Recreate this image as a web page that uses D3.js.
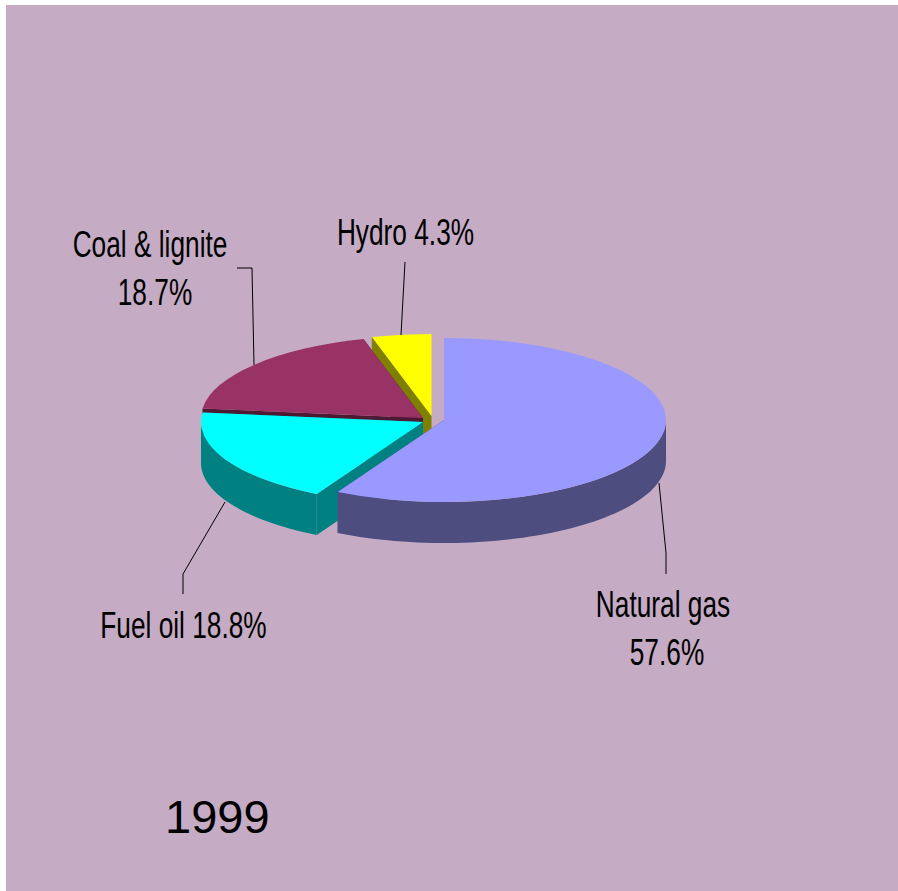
<!DOCTYPE html>
<html><head><meta charset="utf-8">
<script src="https://cdn.jsdelivr.net/npm/d3@7/dist/d3.min.js"></script>
<style>html,body{margin:0;padding:0;background:#fff}svg{display:block}
text{font-family:"Liberation Sans",Arial,sans-serif;fill:#000}</style>
</head><body><svg id="c" width="898" height="891"></svg>
<script>
const categories=["Natural gas","Fuel oil","Coal & lignite","Hydro"];
const shares=[57.6,18.8,18.7,4.3];
const topColors=["#9999FF","#00FFFF","#993366","#FFFF00"];
const sideColors=["#4D4D80","#008080","#4D1A33","#808000"];
const apexes=[[444,420],[423,422],[423,418],[431.5,416]];
const labelTexts=["Natural gas","57.6%","Fuel oil 18.8%","Coal & lignite","18.7%","Hydro 4.3%"];
const labelX=[663,667,183.5,150,155,405.5];
const labelY=[617,665,638,257,305,245];
const leaders=[[[659,483],[666,553],[666,574]],[[225,502],[183,574],[183,594]],[[254,365],[252,268],[237,268]],[[401,335],[405,262]]];
const rx=222,ry=82,depth=41;
const svg=d3.select("#c");
svg.append("rect").attr("x",6).attr("y",5).attr("width",892).attr("height",886).attr("fill","#C5ABC4");
const pie=d3.pie().sort(null).value(d=>d);
const arcs=pie(shares);
const unit=d3.arc().innerRadius(0).outerRadius(1);
const pt=(a,c,dz=0)=>[c[0]+rx*Math.sin(a),c[1]-ry*Math.cos(a)+dz];
const line=d3.line();
const draw=i=>{
  const d=arcs[i],c=apexes[i],g=svg.append("g");
  [d.startAngle,d.endAngle].forEach(a=>{
    const e=pt(a,c);
    g.append("path").attr("d",line([c,e,[e[0],e[1]+depth],[c[0],c[1]+depth]])+"Z").attr("fill",sideColors[i]);
  });
  const lo=Math.max(d.startAngle,Math.PI/2),hi=Math.min(d.endAngle,Math.PI*1.5);
  if(hi>lo){
    const as=d3.range(0,61).map(k=>lo+(hi-lo)*k/60);
    const upper=as.map(a=>pt(a,c)),lower=as.map(a=>pt(a,c,depth)).reverse();
    g.append("path").attr("d",line(upper.concat(lower))+"Z").attr("fill",sideColors[i]);
  }
  g.append("path").attr("d",unit(d)).attr("transform",`translate(${c[0]},${c[1]}) scale(${rx},${ry})`).attr("fill",topColors[i]);
};
[3,2,1,0].forEach(draw);
leaders.forEach(l=>svg.append("path").attr("d",line(l)).attr("fill","none").attr("stroke","#000").attr("stroke-width",1));
labelTexts.forEach((s,i)=>{
  svg.append("text").attr("text-anchor","middle").attr("font-size",37)
    .attr("transform",`translate(${labelX[i]},${labelY[i]}) scale(0.71,1)`).text(s);
});
svg.append("text").attr("x",165).attr("y",833).attr("font-size",47).text("1999");
</script></body></html>
